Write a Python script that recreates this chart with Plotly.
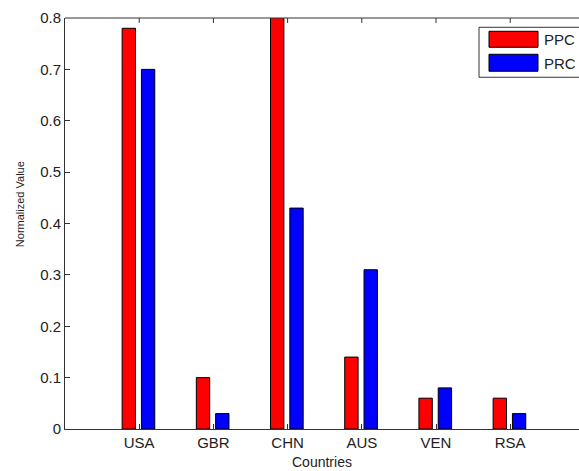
import plotly.graph_objects as go

countries = ["USA", "GBR", "CHN", "AUS", "VEN", "RSA"]
ppc = [0.78, 0.10, 1.00, 0.14, 0.06, 0.06]
prc = [0.70, 0.03, 0.43, 0.31, 0.08, 0.03]
y_ticks = [0, 0.1, 0.2, 0.3, 0.4, 0.5, 0.6, 0.7, 0.8]

W, H = 579, 471
L, T, B = 65, 17.7, 429
R = 0
PW = W - L - R
PH = B - T
positions = list(range(1, len(countries) + 1))
x_max = PW / 74.2

def px(x):
    return (x - L) / PW

def py(y):
    return 1 - (y - T) / PH

FONT = "Liberation Sans, Arial, sans-serif"
AX = "#333333"

fig = go.Figure()
fig.add_trace(go.Bar(x=positions, y=ppc, name="PPC", width=0.18, offset=-0.23,
                     marker=dict(color="#ff0000", line=dict(color="#000000", width=1)),
                     showlegend=False))
fig.add_trace(go.Bar(x=positions, y=prc, name="PRC", width=0.18, offset=0.03,
                     marker=dict(color="#0000ff", line=dict(color="#000000", width=1)),
                     showlegend=False))

fig.update_layout(
    width=W, height=H,
    margin=dict(l=L, r=R, t=T, b=H - B, pad=0),
    paper_bgcolor="white", plot_bgcolor="white",
    barmode="overlay",
    font=dict(family=FONT, size=15, color="#222222"),
    xaxis=dict(range=[0, x_max], tickvals=positions, ticktext=countries,
               showline=True, linecolor=AX, linewidth=1, ticks="inside",
               ticklen=5, tickcolor=AX, showgrid=False, zeroline=False,
               tickfont=dict(size=15), fixedrange=True),
    yaxis=dict(range=[0, 0.8], tickvals=y_ticks, ticktext=[("%g" % v) for v in y_ticks],
               showline=True, linecolor=AX, linewidth=1, ticks="inside",
               ticklen=5, tickcolor=AX, showgrid=False, zeroline=False,
               tickfont=dict(size=15), fixedrange=True),
)

ann = [
    dict(text="Countries", x=px(322), y=py(462), xref="paper", yref="paper",
         showarrow=False, xanchor="center", yanchor="middle", font=dict(size=14)),
    dict(text="Normalized Value", x=px(20), y=py(204), xref="paper", yref="paper",
         showarrow=False, xanchor="center", yanchor="middle", textangle=-90,
         font=dict(size=11)),
    dict(text="PPC", x=px(542), y=py(39.5), xref="paper", yref="paper",
         showarrow=False, xanchor="left", yanchor="middle", font=dict(size=15)),
    dict(text="PRC", x=px(542), y=py(62.8), xref="paper", yref="paper",
         showarrow=False, xanchor="left", yanchor="middle", font=dict(size=15)),
]
# top frame line with inward ticks (MATLAB box)
shapes = [dict(type="line", xref="paper", yref="paper", x0=0, x1=1.05, y0=1, y1=1,
               line=dict(color=AX, width=1))]
for p in positions:
    shapes.append(dict(type="line", xref="x", yref="paper", x0=p, x1=p,
                       y0=1, y1=1 - 5 / PH, line=dict(color=AX, width=1)))
shapes += [
    dict(type="rect", xref="paper", yref="paper", x0=px(479), x1=px(590), y0=py(77), y1=py(27),
         line=dict(color=AX, width=1), fillcolor="white", layer="above"),
    dict(type="rect", xref="paper", yref="paper", x0=px(489), x1=px(538), y0=py(47), y1=py(31),
         line=dict(color="#000000", width=1), fillcolor="#ff0000", layer="above"),
    dict(type="rect", xref="paper", yref="paper", x0=px(489), x1=px(538), y0=py(71), y1=py(54),
         line=dict(color="#000000", width=1), fillcolor="#0000ff", layer="above"),
]
fig.update_layout(annotations=ann, shapes=shapes)

fig.write_html("out.html", config={"displayModeBar": False})
